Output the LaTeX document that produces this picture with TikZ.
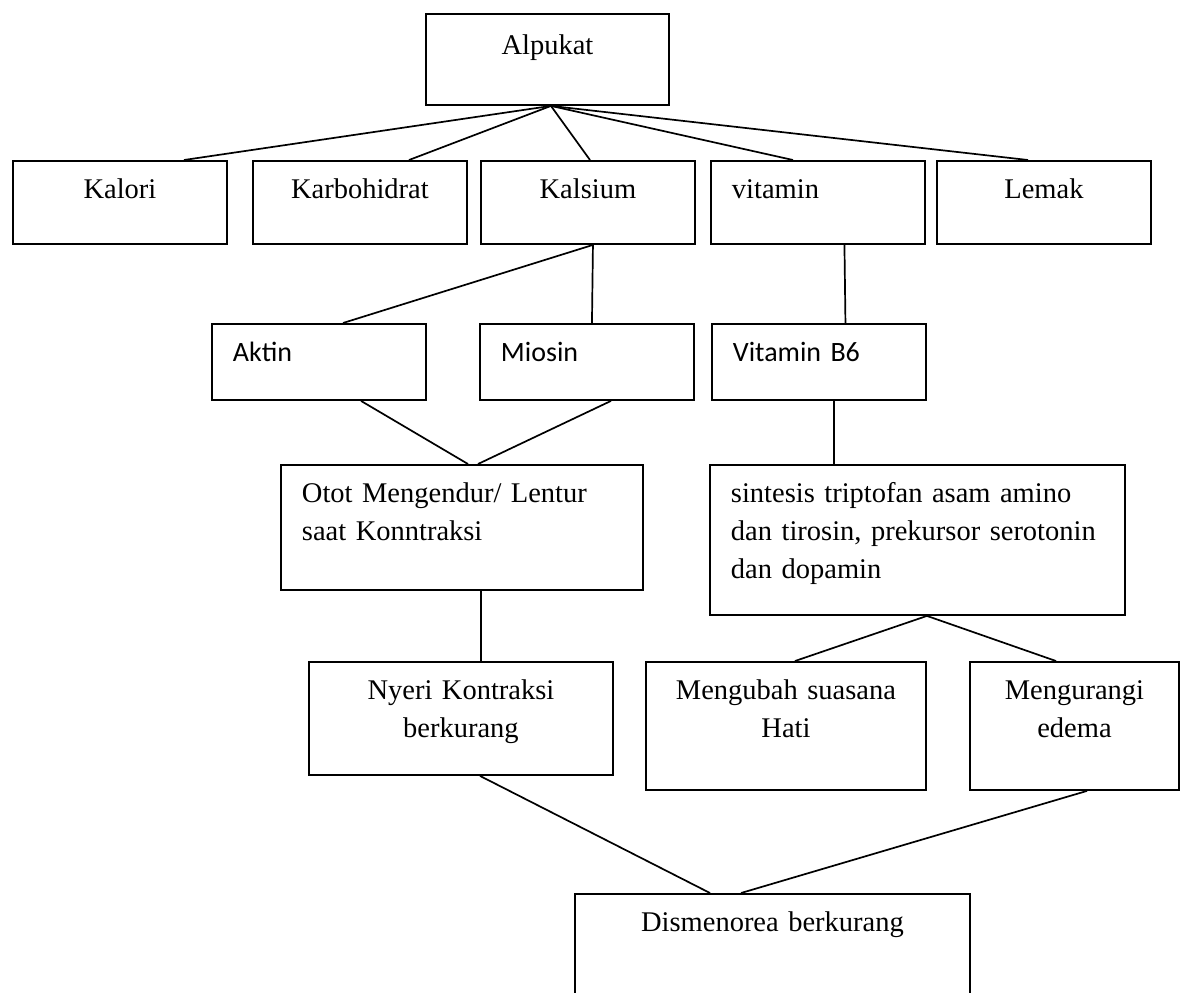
\documentclass[tikz,border=0pt]{standalone}
\usepackage{fontspec}
\setmainfont{Liberation Serif}
\newfontfamily\calibrifont{Carlito}
\tikzset{
  box/.style={draw, line width=0.95pt, anchor=north west, inner xsep=10.5pt, inner ysep=0pt,
    text height=19pt, font=\fontsize{14.25}{19}\selectfont},
  sansbox/.style={box, font=\calibrifont\fontsize{14}{19}\selectfont},
  link/.style={line width=0.85pt}
}
\begin{document}
\begin{tikzpicture}[x=0.5pt, y=-0.5pt]
        \path[use as bounding box, clip] (0,0) rectangle (1183,992);

        % --- Draw top box and its five contents ---
        \node[box, text width=100.5pt, text height=20.5pt, text depth=25pt, align=center] (alpukat) at (425,13) {Alpukat};
        \node[box, text width=86pt, text depth=22.5pt, align=center] (kalori) at (12,160) {Kalori};
        \node[box, text width=86pt, text depth=22.5pt, align=center] (karbo) at (252,160) {Karbohidrat};
        \node[box, text width=86pt, text depth=22.5pt, align=center] (kalsium) at (480,160) {Kalsium};
        \node[box, text width=86pt, text depth=22.5pt, align=left] (vitamin) at (710,160) {vitamin};
        \node[box, text width=86pt, text depth=22.5pt, align=center] (lemak) at (936,160) {Lemak};
        \draw[link] ([xshift=1.75pt]alpukat.south) -- ([xshift=86pt]kalori.north west);
        \draw[link] ([xshift=1.75pt]alpukat.south) -- ([xshift=78.5pt]karbo.north west);
        \draw[link] ([xshift=1.75pt]alpukat.south) -- ([xshift=55pt]kalsium.north west);
        \draw[link] ([xshift=1.75pt]alpukat.south) -- ([xshift=41.5pt]vitamin.north west);
        \draw[link] ([xshift=1.75pt]alpukat.south) -- ([xshift=46pt]lemak.north west);
        % ---

        % --- Draw second row ---
        \node[sansbox, text width=86pt, text depth=19pt, align=left] (aktin) at (211,323) {Aktin};
        \node[sansbox, text width=86pt, text depth=19pt, align=left] (miosin) at (479,323) {Miosin};
        \node[sansbox, text width=86pt, text depth=19pt, align=left] (vitb) at (711,323) {Vitamin B6};
        \draw[link] ([xshift=2.5pt]kalsium.south) -- ([xshift=66pt]aktin.north west);
        \draw[link] ([xshift=2.5pt]kalsium.south) -- ([xshift=2.5pt]miosin.north);
        \draw[link] ([xshift=13.25pt]vitamin.south) -- ([xshift=13.25pt]vitb.north);
        % ---

        % --- Draw effects ---
        \node[box, text width=160pt, text depth=43.5pt, align=left] (otot) at (280,464) {Otot Mengendur/ Lentur\\saat Konntraksi};
        \node[box, text width=186.5pt, text depth=56pt, align=left] (sintesis) at (709,464) {sintesis triptofan asam amino\\dan tirosin, prekursor serotonin\\dan dopamin};
        \draw[link] ([xshift=75pt]aktin.south west) -- ([xshift=94pt]otot.north west);
        \draw[link] ([xshift=66pt]miosin.south west) -- ([xshift=99pt]otot.north west);
        \draw[link] ([xshift=61.5pt]vitb.south west) -- ([xshift=62.5pt]sintesis.north west);

        \node[box, text width=131pt, text depth=37.5pt, align=center] (nyeri) at (308,661) {Nyeri Kontraksi\\berkurang};
        \node[box, text width=119pt, text depth=45pt, align=center] (hati) at (645,661) {Mengubah suasana\\Hati};
        \node[box, text width=83.5pt, text depth=45pt, align=center] (edema) at (969,661) {Mengurangi\\edema};
        \draw[link] ([xshift=9.5pt]otot.south) -- ([xshift=10pt]nyeri.north);
        \draw[link] ([xshift=4.75pt]sintesis.south) -- ([xshift=75pt]hati.north west);
        \draw[link] ([xshift=4.75pt]sintesis.south) -- ([xshift=43.5pt]edema.north west);
        % ---

        % --- Draw result ---
        \node[box, text width=176.5pt, text depth=39.5pt, align=center] (dismenorea) at (574,893) {Dismenorea berkurang};
        \draw[link] ([xshift=86pt]nyeri.south west) -- ([xshift=68pt]dismenorea.north west);
        \draw[link] ([xshift=59pt]edema.south west) -- ([xshift=83.5pt]dismenorea.north west);
        % ---
\end{tikzpicture}
\end{document}
